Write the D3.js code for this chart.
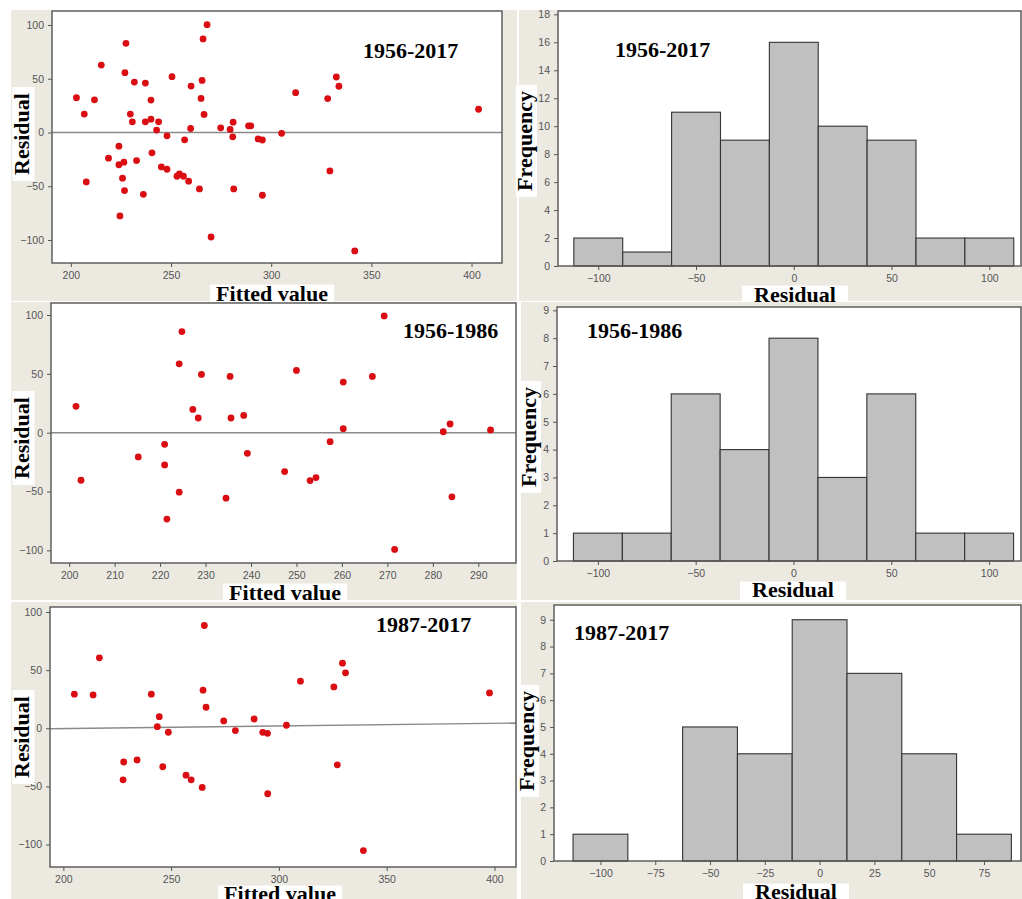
<!DOCTYPE html>
<html>
<head>
<meta charset="utf-8">
<script src="https://cdn.jsdelivr.net/npm/d3@7"></script>
<style>
  body { margin: 0; background: #fff; }
  .tick text { font-family: "Liberation Sans", Arial, sans-serif; font-size: 10.5px; fill: #555; }
  .tick line { stroke: #555; }
</style>
</head>
<body>
<div id="chart"></div>
<script>
// residuals vs fitted values
var fitted1 = [202.8, 206.7, 207.7, 211.8, 215.2, 218.8, 224.0, 224.0, 224.5, 225.8, 226.5, 226.8, 227.0, 227.5, 229.7, 230.7, 231.7, 232.8, 236.2, 237.2, 237.2, 240.0, 240.0, 240.5, 242.8, 243.8, 245.2, 248.0, 248.0, 250.5, 253.0, 254.2, 256.2, 256.8, 258.8, 259.8, 260.0, 264.2, 265.0, 265.5, 266.0, 266.5, 268.0, 270.0, 274.8, 279.5, 280.8, 281.0, 281.3, 288.7, 289.8, 293.5, 295.6, 295.6, 305.2, 312.2, 328.2, 329.3, 332.5, 333.8, 341.7, 403.5];
var resid1 = [32.3, 17.1, -46.0, 30.4, 62.7, -23.9, -12.7, -30.0, -77.6, -42.5, -27.6, -54.0, 55.6, 82.9, 17.1, 9.9, 46.9, -26.1, -57.5, 46.0, 9.9, 12.4, 30.1, -18.9, 2.2, 9.9, -32.0, -3.1, -34.2, 51.9, -40.7, -38.5, -40.7, -6.8, -45.3, 3.7, 43.2, -52.5, 31.7, 48.4, 87.0, 16.8, 100.3, -97.2, 4.3, 2.8, -4.0, 9.6, -52.5, 6.2, 6.2, -6.0, -7.0, -58.4, -0.8, 37.0, 31.5, -35.8, 51.6, 43.0, -110.2, 21.6];

var fitted2 = [201.5, 202.6, 215.2, 221.0, 221.0, 221.5, 224.2, 224.2, 224.8, 227.2, 228.4, 229.1, 234.5, 235.4, 235.6, 238.4, 239.2, 247.4, 250.0, 253.0, 254.3, 257.4, 260.3, 260.3, 266.7, 269.3, 271.6, 282.3, 283.8, 284.2, 292.7];
var resid2 = [22.4, -40.4, -20.6, -9.9, -27.4, -73.4, 58.5, -50.5, 85.9, 19.8, 12.5, 49.5, -55.6, 47.8, 12.5, 14.7, -17.5, -33.0, 52.9, -40.7, -38.1, -7.6, 43.0, 3.4, 47.8, 99.2, -99.2, 0.8, 7.4, -54.5, 2.3];

var fitted3 = [205.1, 213.8, 216.7, 227.7, 228.0, 234.2, 240.8, 243.6, 244.5, 246.1, 248.7, 256.9, 259.3, 264.4, 264.8, 265.4, 266.2, 274.4, 279.8, 288.5, 292.5, 294.7, 294.8, 303.5, 310.0, 325.5, 327.1, 329.5, 330.9, 339.2, 397.7];
var resid3 = [29.3, 28.7, 60.6, -44.3, -29.0, -27.3, 29.3, 1.4, 10.0, -33.1, -3.4, -40.3, -44.3, -50.9, 32.8, 88.4, 18.1, 6.3, -2.0, 8.0, -3.5, -4.3, -56.3, 2.6, 40.5, 35.6, -31.4, 56.0, 47.7, -105.2, 30.4];

// reference lines (fitted, residual) end points
var refLine1 = [[190.6, 0], [415.2, 0]];
var refLine2 = [[196.0, 0], [298.3, 0]];
var refLine3 = [[193.8, -0.4], [410.0, 4.5]];

// histograms of residuals (bin width 25)
var binMid12 = [-100, -75, -50, -25, 0, 25, 50, 75, 100];
var freq1 = [2, 1, 11, 9, 16, 10, 9, 2, 2];
var freq2 = [1, 1, 6, 4, 8, 3, 6, 1, 1];
var binMid3 = [-100, -75, -50, -25, 0, 25, 50, 75];
var freq3 = [1, 0, 5, 4, 9, 7, 4, 1];
var binWidth = 25;

var periods = ["1956-2017", "1956-1986", "1987-2017"];

// tick labels
var residTicks = [-100, -50, 0, 50, 100];
var fitTicks1 = [200, 250, 300, 350, 400];
var fitTicks2 = [200, 210, 220, 230, 240, 250, 260, 270, 280, 290];
var fitTicks3 = [200, 250, 300, 350, 400];
var histTicks12 = [-100, -50, 0, 50, 100];
var histTicks3 = [-100, -75, -50, -25, 0, 25, 50, 75];
var freqTicks1 = [0, 2, 4, 6, 8, 10, 12, 14, 16, 18];
var freqTicks23 = [0, 1, 2, 3, 4, 5, 6, 7, 8, 9];

var bg = "#ece9e1";
var serif = '"Liberation Serif", "Times New Roman", serif';
var fs = 22;

var svg = d3.select("#chart")
    .append("svg")
    .attr("width", 1022)
    .attr("height", 899)
    .style("display", "block");

// label with white box behind it (box hugs the caps, not the full ascent)
const boxedLabel = (g, text, x, y, rotate, padX, padY) => {
    var tr = "translate(" + x + "," + y + ")" + (rotate ? " rotate(-90)" : "");
    var dy = rotate ? 0.35 * fs : 0;
    var t = g.append("text")
        .attr("transform", tr)
        .attr("text-anchor", "middle")
        .attr("dy", dy)
        .style("font-family", serif)
        .style("font-weight", "bold")
        .style("font-size", fs + "px")
        .attr("fill", "#000")
        .text(text);
    var bb = t.node().getBBox();
    var top = dy - 0.7 * fs - padY;
    var bottom = dy + 0.22 * fs + padY;
    g.insert("rect", () => t.node())
        .attr("transform", tr)
        .attr("x", bb.x - padX)
        .attr("y", top)
        .attr("width", bb.width + 2 * padX)
        .attr("height", bottom - top)
        .attr("fill", "#fff");
}

const title = (g, text, x, y) => {
    g.append("text")
        .attr("x", x)
        .attr("y", y)
        .style("font-family", serif)
        .style("font-weight", "bold")
        .style("font-size", fs + "px")
        .text(text);
}

const drawScatter = (p) => {
    var g = svg.append("g");
    var b = p.box;
    g.append("rect").attr("x", p.bg[0]).attr("y", p.bg[1]).attr("width", p.bg[2]).attr("height", p.bg[3]).attr("fill", bg);
    g.append("rect").attr("x", b.l).attr("y", b.t).attr("width", b.r - b.l).attr("height", b.b - b.t).attr("fill", "#fff");

    var x = d3.scaleLinear().domain(p.xDom).range([b.l, b.r]);
    var y = d3.scaleLinear().domain(p.yDom).range([b.b, b.t]);

    g.append("g")
        .attr("transform", "translate(0," + b.b + ")")
        .call(d3.axisBottom(x).tickValues(p.xTicks).tickSize(4).tickPadding(5).tickFormat(d3.format("d")))
        .call(a => a.select(".domain").remove());
    g.append("g")
        .attr("transform", "translate(" + b.l + ",0)")
        .call(d3.axisLeft(y).tickValues(residTicks).tickSize(4).tickPadding(4).tickFormat(d3.format("d")))
        .call(a => a.select(".domain").remove());

    g.append("path")
        .datum(p.line)
        .attr("d", d3.line().x(d => x(d[0])).y(d => y(d[1])))
        .attr("stroke", "#8a8a8a")
        .attr("stroke-width", 1.4)
        .attr("fill", "none");

    g.selectAll("circle.pt")
        .data(p.fitted.map((f, i) => ({ f: f, r: p.resid[i] })))
        .enter()
        .append("circle")
        .attr("class", "pt")
        .attr("cx", d => x(d.f))
        .attr("cy", d => y(d.r))
        .attr("r", 3.4)
        .attr("fill", "#d90d12");

    g.append("rect").attr("x", b.l).attr("y", b.t).attr("width", b.r - b.l).attr("height", b.b - b.t)
        .attr("fill", "none").attr("stroke", "#555").attr("stroke-width", 1.4);

    title(g, p.title, p.titlePos[0], p.titlePos[1]);
    boxedLabel(g, "Residual", p.yLab[0], p.yLab[1], true, 6, 1);
    boxedLabel(g, "Fitted value", p.xLab[0], p.xLab[1], false, 6, p.xPad);
}

const drawHist = (p) => {
    var g = svg.append("g");
    var b = p.box;
    g.append("rect").attr("x", p.bg[0]).attr("y", p.bg[1]).attr("width", p.bg[2]).attr("height", p.bg[3]).attr("fill", bg);
    g.append("rect").attr("x", b.l).attr("y", b.t).attr("width", b.r - b.l).attr("height", b.b - b.t).attr("fill", "#fff");

    var x = d3.scaleLinear().domain(p.xDom).range([b.l, b.r]);
    var y = d3.scaleLinear().domain(p.yDom).range([b.b, b.t]);

    g.selectAll("rect.bar")
        .data(p.mids.map((m, i) => ({ m: m, n: p.freq[i] })).filter(d => d.n > 0))
        .enter()
        .append("rect")
        .attr("class", "bar")
        .attr("x", d => x(d.m - binWidth / 2))
        .attr("width", d => x(d.m + binWidth / 2) - x(d.m - binWidth / 2))
        .attr("y", d => y(d.n))
        .attr("height", d => y(0) - y(d.n))
        .attr("fill", "#c0c0c0")
        .attr("stroke", "#333")
        .attr("stroke-width", 1.1);

    g.append("g")
        .attr("transform", "translate(0," + b.b + ")")
        .call(d3.axisBottom(x).tickValues(p.xTicks).tickSize(4).tickPadding(5).tickFormat(d3.format("d")))
        .call(a => a.select(".domain").remove());
    g.append("g")
        .attr("transform", "translate(" + b.l + ",0)")
        .call(d3.axisLeft(y).tickValues(p.yTicks).tickSize(4).tickPadding(4).tickFormat(d3.format("d")))
        .call(a => a.select(".domain").remove());

    g.append("rect").attr("x", b.l).attr("y", b.t).attr("width", b.r - b.l).attr("height", b.b - b.t)
        .attr("fill", "none").attr("stroke", "#555").attr("stroke-width", 1.4);

    title(g, p.title, p.titlePos[0], p.titlePos[1]);
    boxedLabel(g, "Frequency", p.yLab[0], p.yLab[1], true, 6, 0.5);
    boxedLabel(g, "Residual", p.xLab[0], p.xLab[1], false, 12, p.xPad);
}

// row 1
drawScatter({ bg: [11, 10, 506, 291], box: { l: 52, t: 11, r: 502, b: 263 },
    xDom: [190.6, 415.2], yDom: [-121.4, 113], xTicks: fitTicks1,
    fitted: fitted1, resid: resid1, line: refLine1,
    title: periods[0], titlePos: [363, 58], yLab: [21, 134], xLab: [272, 301], xPad: 1 });
drawHist({ bg: [519, 10, 503, 291], box: { l: 558, t: 11, r: 1021, b: 266 },
    xDom: [-120.6, 116.2], yDom: [0, 18.24], xTicks: histTicks12, yTicks: freqTicks1,
    mids: binMid12, freq: freq1,
    title: periods[0], titlePos: [615, 57], yLab: [524, 141], xLab: [795, 302], xPad: 1 });

// row 2
drawScatter({ bg: [11, 302, 506, 298], box: { l: 51, t: 303, r: 516, b: 563 },
    xDom: [196.0, 298.3], yDom: [-110.7, 110.2], xTicks: fitTicks2,
    fitted: fitted2, resid: resid2, line: refLine2,
    title: periods[1], titlePos: [403, 338], yLab: [21, 438], xLab: [285, 600], xPad: 1 });
drawHist({ bg: [521, 302, 501, 298], box: { l: 557, t: 307, r: 1021, b: 561 },
    xDom: [-120.9, 116.3], yDom: [0, 9.12], xTicks: histTicks12, yTicks: freqTicks23,
    mids: binMid12, freq: freq2,
    title: periods[1], titlePos: [587, 338], yLab: [528, 437], xLab: [793, 597], xPad: 0 });

// row 3
drawScatter({ bg: [11, 602, 506, 297], box: { l: 50, t: 607, r: 516, b: 867 },
    xDom: [193.8, 410.0], yDom: [-119.3, 104.3], xTicks: fitTicks3,
    fitted: fitted3, resid: resid3, line: refLine3,
    title: periods[2], titlePos: [376, 632], yLab: [21, 737], xLab: [280, 901], xPad: 0 });
drawHist({ bg: [521, 602, 501, 297], box: { l: 554, t: 605, r: 1021, b: 861 },
    xDom: [-121.2, 91.9], yDom: [0, 9.55], xTicks: histTicks3, yTicks: freqTicks23,
    mids: binMid3, freq: freq3,
    title: periods[2], titlePos: [574, 640], yLab: [526, 741], xLab: [796, 899], xPad: 0 });
</script>
</body>
</html>
